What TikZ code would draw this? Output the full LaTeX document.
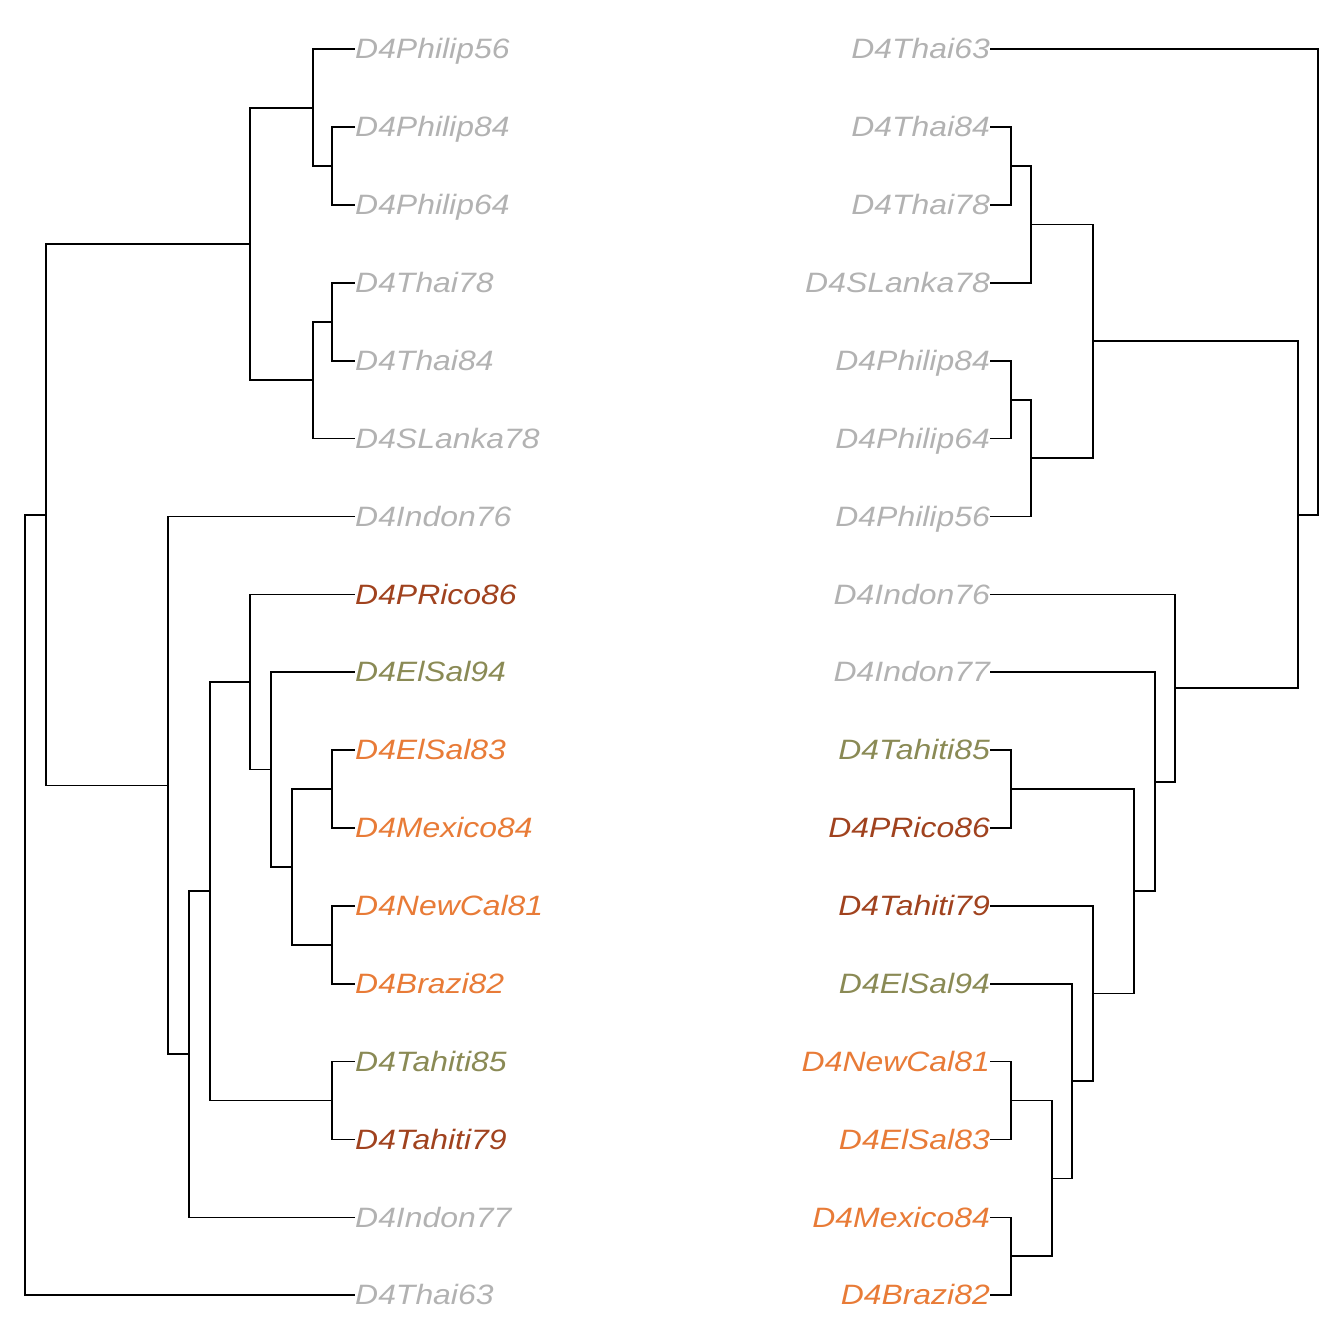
\documentclass[tikz,border=0pt]{standalone}
\usepackage{graphicx}
\usepackage{fontspec}
\usepackage{tikz}
\usetikzlibrary{calc}
\newfontfamily\tipfont{Liberation Sans}
\definecolor{tipgray}{RGB}{178,178,178}
\definecolor{tipbrown}{RGB}{160,66,30}
\definecolor{tipolive}{RGB}{138,138,85}
\definecolor{tiporange}{RGB}{232,123,55}
\newcommand{\tiplab}[1]{\raisebox{-7.5pt}{\scalebox{1.14}[1]{#1}}}

\begin{document}
\begin{tikzpicture}[x=1pt, y=-77.87pt,
    branch/.style={line width=1.7pt, black},
    tipL/.style={inner sep=0pt, anchor=mid west, font=\tipfont\itshape\fontsize{28}{34}\selectfont},
    tipR/.style={inner sep=0pt, anchor=mid east, font=\tipfont\itshape\fontsize{28}{34}\selectfont}]
  \useasboundingbox (0,-0.633) rectangle (1344,16.626);

  % --- left tree ---
  \foreach \n/\r/\c in {Philip56/0/tipgray, Philip84/1/tipgray, Philip64/2/tipgray,
      Thai78/3/tipgray, Thai84/4/tipgray, SLanka78/5/tipgray, Indon76/6/tipgray,
      PRico86/7/tipbrown, ElSal94/8/tipolive, ElSal83/9/tiporange, Mexico84/10/tiporange,
      NewCal81/11/tiporange, Brazi82/12/tiporange, Tahiti85/13/tipolive,
      Tahiti79/14/tipbrown, Indon77/15/tipgray, Thai63/16/tipgray}
    \node[tipL, text=\c] (l\n) at (355,\r) {\tiplab{D4\n}};

  \coordinate (la1) at (332,1.5);
  \coordinate (la2) at (313,0.75);
  \coordinate (lb1) at (332,3.5);
  \coordinate (lb2) at (313,4.25);
  \coordinate (lc) at (250,2.5);
  \coordinate (ld1) at (332,9.5);
  \coordinate (ld2) at (332,11.5);
  \coordinate (ld3) at (292,10.5);
  \coordinate (ld4) at (271,9.25);
  \coordinate (ld5) at (250,8.125);
  \coordinate (le) at (332,13.5);
  \coordinate (lf) at (210,10.8125);
  \coordinate (lg) at (189,12.90625);
  \coordinate (lh) at (168,9.453125);
  \coordinate (li) at (46,5.9765625);
  \coordinate (lroot) at (25,10.98828125);

  \foreach \p/\c in {la1/lPhilip84.mid west, la1/lPhilip64.mid west,
      la2/lPhilip56.mid west, la2/la1, lb1/lThai78.mid west, lb1/lThai84.mid west,
      lb2/lb1, lb2/lSLanka78.mid west, lc/la2, lc/lb2,
      ld1/lElSal83.mid west, ld1/lMexico84.mid west,
      ld2/lNewCal81.mid west, ld2/lBrazi82.mid west, ld3/ld1, ld3/ld2,
      ld4/lElSal94.mid west, ld4/ld3, ld5/lPRico86.mid west, ld5/ld4,
      le/lTahiti85.mid west, le/lTahiti79.mid west, lf/ld5, lf/le,
      lg/lf, lg/lIndon77.mid west, lh/lIndon76.mid west, lh/lg,
      li/lc, li/lh, lroot/li, lroot/lThai63.mid west}
    \draw[branch] (\p) |- (\c);

  % --- right tree ---
  \foreach \n/\r/\c in {Thai63/0/tipgray, Thai84/1/tipgray, Thai78/2/tipgray,
      SLanka78/3/tipgray, Philip84/4/tipgray, Philip64/5/tipgray, Philip56/6/tipgray,
      Indon76/7/tipgray, Indon77/8/tipgray, Tahiti85/9/tipolive, PRico86/10/tipbrown,
      Tahiti79/11/tipbrown, ElSal94/12/tipolive, NewCal81/13/tiporange,
      ElSal83/14/tiporange, Mexico84/15/tiporange, Brazi82/16/tiporange}
    \node[tipR, text=\c] (r\n) at (990,\r) {\tiplab{D4\n}};

  \coordinate (ra1) at (1011,1.5);
  \coordinate (ra2) at (1031,2.25);
  \coordinate (rb1) at (1011,4.5);
  \coordinate (rb2) at (1031,5.25);
  \coordinate (rc) at (1093,3.75);
  \coordinate (rd) at (1011,9.5);
  \coordinate (re1) at (1011,13.5);
  \coordinate (re2) at (1011,15.5);
  \coordinate (re3) at (1052,14.5);
  \coordinate (re4) at (1072,13.25);
  \coordinate (re5) at (1093,12.125);
  \coordinate (rf) at (1134,10.8125);
  \coordinate (rg) at (1155,9.40625);
  \coordinate (rh) at (1175,8.203125);
  \coordinate (ri) at (1298,5.9765625);
  \coordinate (rroot) at (1318,2.98828125);

  \foreach \p/\c in {ra1/rThai84.mid east, ra1/rThai78.mid east,
      ra2/ra1, ra2/rSLanka78.mid east, rb1/rPhilip84.mid east, rb1/rPhilip64.mid east,
      rb2/rb1, rb2/rPhilip56.mid east, rc/ra2, rc/rb2,
      rd/rTahiti85.mid east, rd/rPRico86.mid east,
      re1/rNewCal81.mid east, re1/rElSal83.mid east,
      re2/rMexico84.mid east, re2/rBrazi82.mid east, re3/re1, re3/re2,
      re4/rElSal94.mid east, re4/re3, re5/rTahiti79.mid east, re5/re4,
      rf/rd, rf/re5, rg/rIndon77.mid east, rg/rf, rh/rIndon76.mid east, rh/rg,
      ri/rc, ri/rh, rroot/rThai63.mid east, rroot/ri}
    \draw[branch] (\p) |- (\c);
\end{tikzpicture}
\end{document}
